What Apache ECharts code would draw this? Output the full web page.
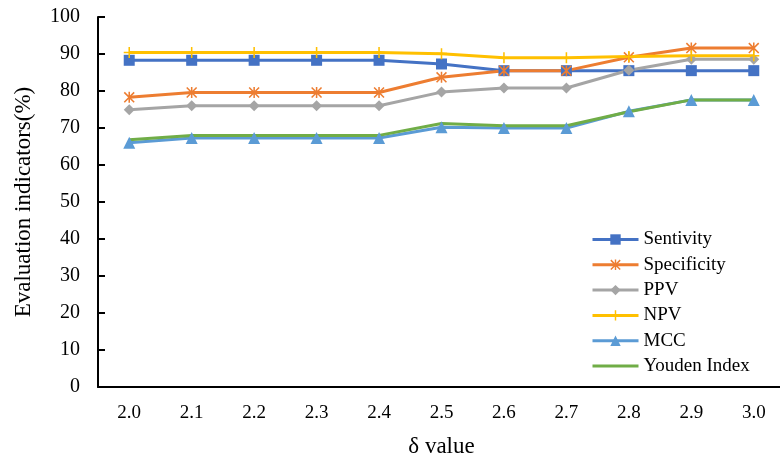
<!DOCTYPE html>
<html>
<head>
<meta charset="utf-8">
<script src="https://cdn.jsdelivr.net/npm/echarts@6/dist/echarts.min.js"></script>
<style>html,body{margin:0;padding:0;background:#fff}#c{width:780px;height:464px}</style>
</head>
<body>
<div id="c"></div>
<script>
const categories = ['2.0','2.1','2.2','2.3','2.4','2.5','2.6','2.7','2.8','2.9','3.0'];
const yTicks = [0,10,20,30,40,50,60,70,80,90,100];
const sensitivity = [88.3,88.3,88.3,88.3,88.3,87.3,85.5,85.5,85.5,85.5,85.5];
const specificity = [78.3,79.6,79.6,79.6,79.6,83.7,85.5,85.5,89.1,91.6,91.6];
const ppv = [74.9,76.0,76.0,76.0,76.0,79.7,80.8,80.8,85.6,88.6,88.6];
const npv = [90.4,90.4,90.4,90.4,90.4,90.1,89.0,89.0,89.3,89.5,89.5];
const mcc = [66.0,67.3,67.3,67.3,67.3,70.2,70.0,70.0,74.5,77.6,77.6];
const youden = [66.8,68.0,68.0,68.0,68.0,71.2,70.6,70.6,74.4,77.6,77.6];

const font = '"Liberation Serif", "Times New Roman", serif';
const asterisk = 'path://M0,1 L1,0 L10,9 L9,10 Z M9,0 L10,1 L1,10 L0,9 Z M4.3,0 L5.7,0 L5.7,10 L4.3,10 Z';
const plus = 'path://M4.3,0 L5.7,0 L5.7,4.3 L10,4.3 L10,5.7 L5.7,5.7 L5.7,10 L4.3,10 L4.3,5.7 L0,5.7 L0,4.3 L4.3,4.3 Z';
const flat = 'path://M0,0 L0.01,0 L0,0.01 Z M0,4.4 L10,4.4 L10,5.6 L0,5.6 Z M10,10 L9.99,10 L10,9.99 Z';

function mk(name, data, color, symbol, size, show) {
  return {
    name, type: 'line', data,
    symbol: symbol, symbolSize: size, showSymbol: show,
    lineStyle: { color, width: 3 },
    itemStyle: { color },
    emphasis: { disabled: true },
    animation: false
  };
}

const chart = echarts.init(document.getElementById('c'));
chart.setOption({
  backgroundColor: '#fff',
  animation: false,
  grid: { left: 98, top: 17, width: 687, bottom: 77, containLabel: false, outerBoundsMode: 'none' },
  legend: {
    orient: 'vertical', left: 586, top: 225,
    itemWidth: 46, itemHeight: 13, itemGap: 6.3,
    lineStyle: { width: 3 },
    textStyle: { fontFamily: font, fontSize: 19, color: '#000' },
    data: ['Sentivity','Specificity','PPV','NPV','MCC','Youden Index']
  },
  xAxis: {
    type: 'category', data: categories, boundaryGap: true,
    name: 'δ value', nameLocation: 'middle', nameGap: 48,
    nameTextStyle: { fontFamily: font, fontSize: 23, color: '#000' },
    axisLine: { lineStyle: { color: '#000', width: 2 } },
    axisTick: { inside: true, length: 7, lineStyle: { color: '#000', width: 2 } },
    axisLabel: { fontFamily: font, fontSize: 19, color: '#000', margin: 17 }
  },
  yAxis: {
    type: 'value', min: 0, max: 100, interval: 10,
    name: 'Evaluation indicators(%)', nameLocation: 'middle', nameGap: 63,
    nameTextStyle: { fontFamily: font, fontSize: 23, color: '#000' },
    axisLine: { show: true, lineStyle: { color: '#000', width: 2 } },
    axisTick: { show: true, inside: true, length: 7, lineStyle: { color: '#000', width: 2 } },
    splitLine: { show: false },
    axisLabel: { fontFamily: font, fontSize: 20, color: '#000', margin: 18,
      formatter: v => yTicks.includes(v) ? String(v) : '' }
  },
  series: [
    mk('Sentivity', sensitivity, '#4472C4', 'rect', 11, true),
    mk('Specificity', specificity, '#ED7D31', asterisk, 11, true),
    mk('PPV', ppv, '#A5A5A5', 'diamond', 11, true),
    mk('NPV', npv, '#FFC000', plus, 11, true),
    mk('MCC', mcc, '#5B9BD5', 'triangle', 12, true),
    mk('Youden Index', youden, '#70AD47', flat, 10, false)
  ]
});
</script>
</body>
</html>
